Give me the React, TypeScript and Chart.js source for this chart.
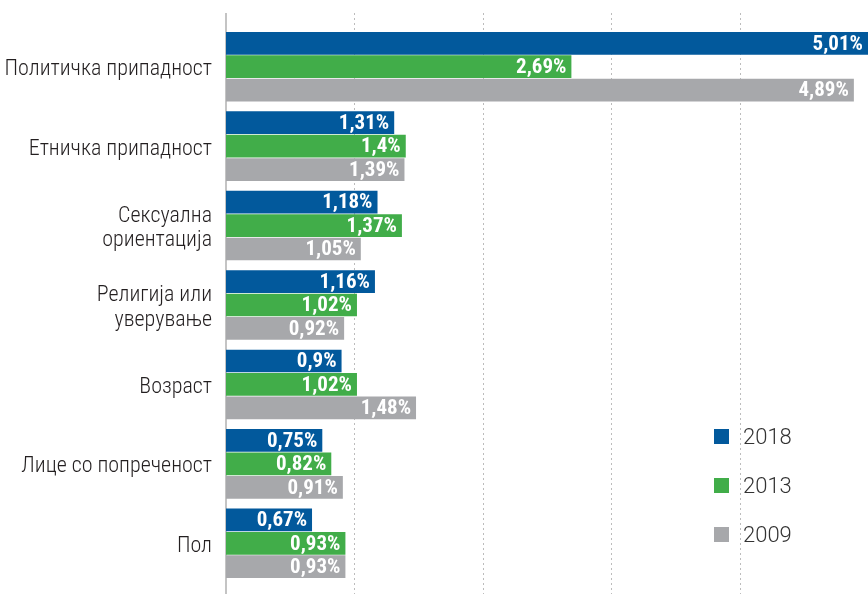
import React, { useEffect, useRef } from "react";
import { Chart, registerables } from "chart.js";

Chart.register(...registerables);

const categories: (string | string[])[] = [
  "Политичка припадност",
  "Етничка припадност",
  ["Сексуална", "ориентација"],
  ["Религија или", "уверување"],
  "Возраст",
  "Лице со попреченост",
  "Пол",
];

const seriesNames = ["2018", "2013", "2009"];
const values2018 = [5.01, 1.31, 1.18, 1.16, 0.9, 0.75, 0.67];
const values2013 = [2.69, 1.4, 1.37, 1.02, 1.02, 0.82, 0.93];
const values2009 = [4.89, 1.39, 1.05, 0.92, 1.48, 0.91, 0.93];
const seriesColors = ["#02599c", "#41ad49", "#a7a8ab"];
const gridTicks = [1, 2, 3, 4];
const xMax = 5;

const CONDENSED = "'Roboto Condensed', 'Liberation Sans Narrow', 'DejaVu Sans Condensed', sans-serif";

const fmt = (v: number) => String(v).replace(".", ",") + "%";

const gridPlugin = {
  id: "customGrid",
  beforeDatasetsDraw(chart: any) {
    const { ctx, chartArea, scales } = chart;
    const x = scales.x;
    const top = chartArea.top - 14;
    const bottom = chart.height;
    ctx.save();
    ctx.strokeStyle = "#bcbcbc";
    ctx.lineWidth = 1;
    ctx.setLineDash([2, 3]);
    gridTicks.forEach((v) => {
      const px = Math.round(x.getPixelForValue(v)) + 0.5;
      ctx.beginPath();
      ctx.moveTo(px, top);
      ctx.lineTo(px, bottom);
      ctx.stroke();
    });
    ctx.setLineDash([]);
    ctx.strokeStyle = "#c4c4c4";
    ctx.lineWidth = 2;
    const x0 = x.getPixelForValue(0);
    ctx.beginPath();
    ctx.moveTo(x0, top);
    ctx.lineTo(x0, bottom);
    ctx.stroke();
    ctx.restore();
  },
};

const labelPlugin = {
  id: "barLabels",
  afterDatasetsDraw(chart: any) {
    const { ctx, chartArea } = chart;
    ctx.save();
    ctx.fillStyle = "#ffffff";
    ctx.font = `bold 21px ${CONDENSED}`;
    ctx.textAlign = "right";
    ctx.textBaseline = "middle";
    chart.data.datasets.forEach((ds: any, i: number) => {
      const meta = chart.getDatasetMeta(i);
      meta.data.forEach((el: any, j: number) => {
        const xe = Math.min(el.x, chartArea.right);
        ctx.fillText(fmt(ds.data[j]), xe - 5, el.y + 1);
      });
    });
    ctx.restore();
  },
};

export default function App() {
  const ref = useRef<HTMLCanvasElement | null>(null);

  useEffect(() => {
    document.body.style.margin = "0";
    if (!ref.current) return;
    const chart = new Chart(ref.current, {
      type: "bar",
      data: {
        labels: categories,
        datasets: [values2018, values2013, values2009].map((d, i) => ({
          label: seriesNames[i],
          data: d,
          backgroundColor: seriesColors[i],
          barPercentage: 0.97,
          categoryPercentage: 0.885,
        })),
      },
      options: {
        indexAxis: "y",
        animation: false,
        responsive: true,
        maintainAspectRatio: false,
        layout: { padding: { top: 27, bottom: 11, right: 0, left: 0 } },
        plugins: {
          legend: { display: false },
          tooltip: { enabled: false },
        },
        scales: {
          x: {
            display: false,
            min: 0,
            max: xMax,
          },
          y: {
            grid: { display: false },
            border: { display: false },
            ticks: {
              color: "#231f20",
              padding: 6,
              labelOffset: 3,
              font: { family: CONDENSED, size: 22, weight: 300, lineHeight: 1.1 },
            },
            afterFit(scale: any) {
              scale.width = 226;
              scale.paddingTop = 0;
              scale.paddingBottom = 0;
            },
          },
        },
      },
      plugins: [gridPlugin, labelPlugin],
    });
    return () => chart.destroy();
  }, []);

  return (
    <div style={{ position: "relative", width: 868, height: 594 }}>
      <canvas ref={ref} />
      {seriesNames.map((name, i) => (
        <div
          key={name}
          style={{
            position: "absolute",
            left: 714,
            top: 424 + i * 49,
            display: "flex",
            alignItems: "center",
            fontFamily: "Roboto, 'Liberation Sans', sans-serif",
            fontWeight: 300,
            fontSize: 22,
            color: "#333333",
          }}
        >
          <span style={{ width: 15, height: 15, background: seriesColors[i], display: "inline-block", marginRight: 14 }} />
          {name}
        </div>
      ))}
    </div>
  );
}
